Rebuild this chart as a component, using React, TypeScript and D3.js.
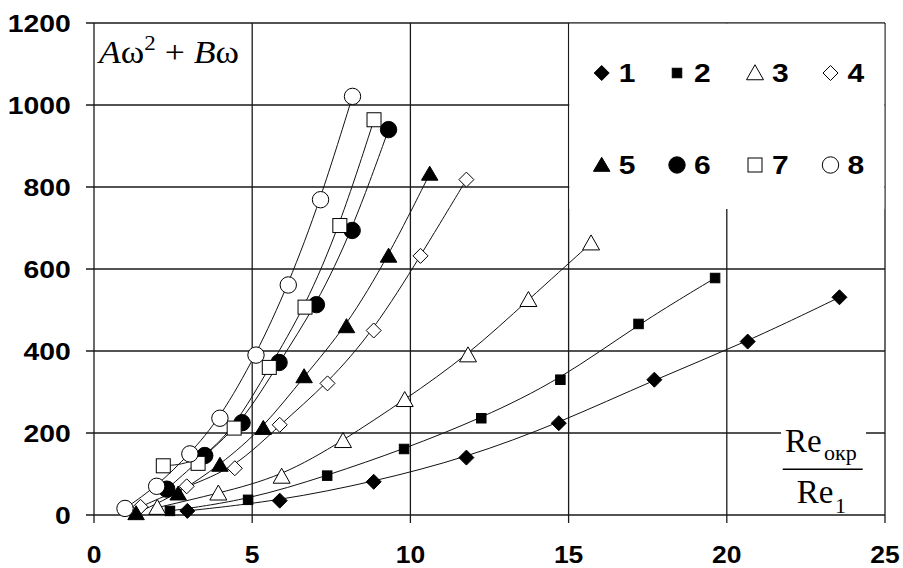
import React from "react";
import * as d3 from "d3";

const xTicks = [0, 5, 10, 15, 20, 25];
const yTicks = [0, 200, 400, 600, 800, 1000, 1200];

const s1x = [2.95, 5.87, 8.84, 11.77, 14.69, 17.71, 20.66, 23.56];
const s1y = [10, 35, 81, 140, 224, 330, 423, 531];
const s2x = [2.4, 4.87, 7.37, 9.8, 12.24, 14.74, 17.21, 19.63];
const s2y = [10, 37, 96, 161, 236, 330, 466, 578];
const s3x = [2.0, 3.93, 5.93, 7.87, 9.82, 11.82, 13.73, 15.71];
const s3y = [18, 53, 94, 181, 281, 390, 525, 663];
const s4x = [1.47, 2.93, 4.45, 5.87, 7.38, 8.84, 10.32, 11.77];
const s4y = [20, 70, 114, 220, 321, 450, 632, 818];
const s5x = [1.33, 2.66, 3.98, 5.35, 6.64, 7.98, 9.31, 10.61];
const s5y = [4, 52, 122, 212, 338, 460, 632, 832];
const s6x = [2.3, 3.5, 4.68, 5.85, 7.03, 8.16, 9.31];
const s6y = [63, 145, 225, 372, 513, 694, 940];
const s7x = [2.19, 3.29, 4.43, 5.54, 6.67, 7.77, 8.85];
const s7y = [120, 126, 212, 360, 507, 706, 964];
const s8x = [0.98, 1.98, 3.03, 3.98, 5.12, 6.14, 7.16, 8.17];
const s8y = [16, 70, 149, 236, 390, 561, 769, 1021];

const seriesLabels = ["1", "2", "3", "4", "5", "6", "7", "8"];
const markerKinds = ["diamondF", "squareF", "triangleO", "diamondO", "triangleF", "circleF", "squareO", "circleO"];

const xs = [s1x, s2x, s3x, s4x, s5x, s6x, s7x, s8x];
const ys = [s1y, s2y, s3y, s4y, s5y, s6y, s7y, s8y];

const x = d3.scaleLinear().domain([0, 25]).range([94, 885]);
const y = d3.scaleLinear().domain([0, 1200]).range([515, 23]);

function Marker({ kind, cx, cy }: { kind: string; cx: number; cy: number }) {
  const filled = kind.endsWith("F");
  const fill = filled ? "#000" : "#fff";
  const stroke = "#000";
  const sw = 1;
  if (kind.startsWith("diamond")) {
    const h = 7.5;
    const d = `M${cx},${cy - h}L${cx + h},${cy}L${cx},${cy + h}L${cx - h},${cy}Z`;
    return <path d={d} fill={fill} stroke={stroke} strokeWidth={sw} />;
  }
  if (kind.startsWith("square")) {
    const s = filled ? 9.5 : 14;
    return <rect x={cx - s / 2} y={cy - s / 2} width={s} height={s} fill={fill} stroke={stroke} strokeWidth={sw} />;
  }
  if (kind.startsWith("triangle")) {
    const w = filled ? 16.5 : 17;
    const h = filled ? 14 : 15;
    const d = `M${cx},${cy - h * 0.55}L${cx + w / 2},${cy + h * 0.45}L${cx - w / 2},${cy + h * 0.45}Z`;
    return <path d={d} fill={fill} stroke={stroke} strokeWidth={sw} />;
  }
  const r = 8.2;
  return <circle cx={cx} cy={cy} r={r} fill={fill} stroke={stroke} strokeWidth={sw} />;
}

export default function App() {
  const line = d3
    .line<[number, number]>()
    .x((d) => x(d[0]))
    .y((d) => y(d[1]))
    .curve(d3.curveBasis);

  const sansBold = { fontFamily: "'Liberation Sans', Arial, sans-serif", fontWeight: 700 } as const;
  const serif = "'Liberation Serif', 'Times New Roman', serif";
  const gridColor = "#1a1a1a";

  const legendLeft = x(15);
  const legendRight = x(25);
  const legendTop = y(1200);
  const legendBottom = 209;
  const legendColX = [601.7, 677, 755, 830.5];
  const legendRowY = [73, 165];

  return (
    <div style={{ position: "fixed", left: 0, top: 0 }}>
      <svg width={903} height={568} style={{ display: "block", background: "#fff" }}>
        {/* grid */}
        {yTicks.map((t) => (
          <line key={"h" + t} x1={86} x2={x(25)} y1={y(t)} y2={y(t)} stroke={gridColor} strokeWidth={1.3} />
        ))}
        {xTicks.map((t) => (
          <line key={"v" + t} x1={x(t)} x2={x(t)} y1={y(1200)} y2={523} stroke={gridColor} strokeWidth={1.3} />
        ))}

        {/* legend box (white over grid) */}
        <rect
          x={legendLeft + 0.7}
          y={legendTop + 0.7}
          width={legendRight - legendLeft - 1.4}
          height={legendBottom - legendTop - 0.7}
          fill="#fff"
        />

        {/* label box bottom-right */}
        <rect x={781} y={418} width={85} height={96} fill="#fff" />

        {/* series lines */}
        {xs.map((sx, i) => (
          <path
            key={"l" + i}
            d={line(sx.map((v, j) => [v, ys[i][j]] as [number, number])) || ""}
            fill="none"
            stroke="#111"
            strokeWidth={1}
          />
        ))}

        {/* markers */}
        {xs.map((sx, i) =>
          sx.map((v, j) => <Marker key={"m" + i + "-" + j} kind={markerKinds[i]} cx={x(v)} cy={y(ys[i][j])} />)
        )}

        {/* y tick labels */}
        {yTicks.map((t) => (
          <text
            key={"yt" + t}
            transform={`translate(70.7, ${y(t) + 8.6}) scale(1.18,1)`}
            textAnchor="end"
            fontSize={24}
            {...sansBold}
          >
            {t}
          </text>
        ))}
        {/* x tick labels */}
        {xTicks.map((t) => (
          <text
            key={"xt" + t}
            transform={`translate(${x(t)}, 563) scale(1.15,1)`}
            textAnchor="middle"
            fontSize={23}
            {...sansBold}
          >
            {t}
          </text>
        ))}

        {/* legend */}
        {seriesLabels.map((lab, i) => {
          const col = i % 4;
          const row = Math.floor(i / 4);
          const mx = legendColX[col];
          const my = legendRowY[row];
          return (
            <g key={"lg" + i}>
              <Marker kind={markerKinds[i]} cx={mx} cy={my} />
              <text
                transform={`translate(${mx + 17}, ${my + 9}) scale(1.2,1)`}
                fontSize={25}
                {...sansBold}
              >
                {lab}
              </text>
            </g>
          );
        })}

        {/* top-left formula */}
        <text transform="translate(99,63.3) scale(1.15,1)" fontFamily={serif} fontSize={31}>
          <tspan fontStyle="italic">A</tspan>
          <tspan>ω</tspan>
          <tspan dy={-13} fontSize={20}>2</tspan>
          <tspan dy={13}>{"\u00a0+\u00a0"}</tspan>
          <tspan fontStyle="italic">B</tspan>
          <tspan>ω</tspan>
        </text>

        {/* bottom-right fraction */}
        <text x={785} y={451.7} fontFamily={serif} fontSize={33}>Re</text>
        <text x={824} y={460} fontFamily={serif} fontSize={22}>окр</text>
        <line x1={782.7} x2={862.7} y1={469.3} y2={469.3} stroke="#000" strokeWidth={1.5} />
        <text x={796.7} y={503.3} fontFamily={serif} fontSize={33}>Re</text>
        <text x={835} y={512.7} fontFamily={serif} fontSize={22}>1</text>
      </svg>
    </div>
  );
}
